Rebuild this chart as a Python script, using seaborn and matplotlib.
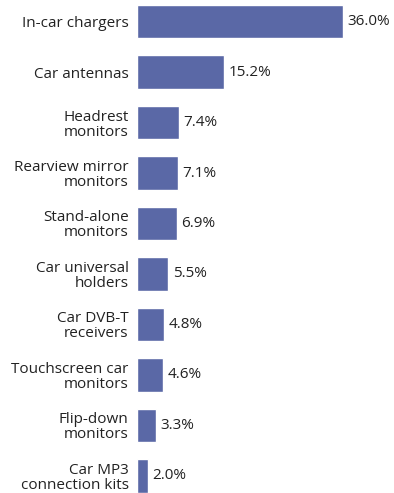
import pandas as pd
import matplotlib
matplotlib.use("Agg")
import matplotlib.pyplot as plt
import seaborn as sns

# dados
categorias = ['In-car chargers', 'Car antennas', 'Headrest\nmonitors',
              'Rearview mirror\nmonitors', 'Stand-alone\nmonitors',
              'Car universal\nholders', 'Car DVB-T\nreceivers',
              'Touchscreen car\nmonitors', 'Flip-down\nmonitors',
              'Car MP3\nconnection kits']
valores = [36.0, 15.2, 7.4, 7.1, 6.9, 5.5, 4.8, 4.6, 3.3, 2.0]

df = pd.DataFrame({'Categoria': categorias, 'Valor': valores})

sns.set_style('white')
plt.rcParams['font.family'] = ['Open Sans', 'DejaVu Sans']

fig = plt.figure(figsize=(3.94, 4.93), dpi=100)
ax = fig.add_axes([137 / 394, 0, 229 / 394, 1])

sns.barplot(data=df, x='Valor', y='Categoria', orient='h', color='#5a68a6',
            saturation=1, width=0.66, ax=ax)

ax.set_xlim(0, 40)
ax.set_ylim(9.337, -0.426)
ax.bar_label(ax.containers[0], labels=[f'{v:.1f}%' for v in valores],
             padding=3, fontsize=11, color='#222222')

ax.set_xlabel('')
ax.set_ylabel('')
ax.set_xticks([])
ax.tick_params(axis='y', length=0, pad=6, labelsize=11, labelcolor='#222222')
for lbl in ax.get_yticklabels():
    lbl.set_linespacing(1.0)
sns.despine(ax=ax, left=True, bottom=True)

fig.savefig('out.png', dpi=100, facecolor='white')
